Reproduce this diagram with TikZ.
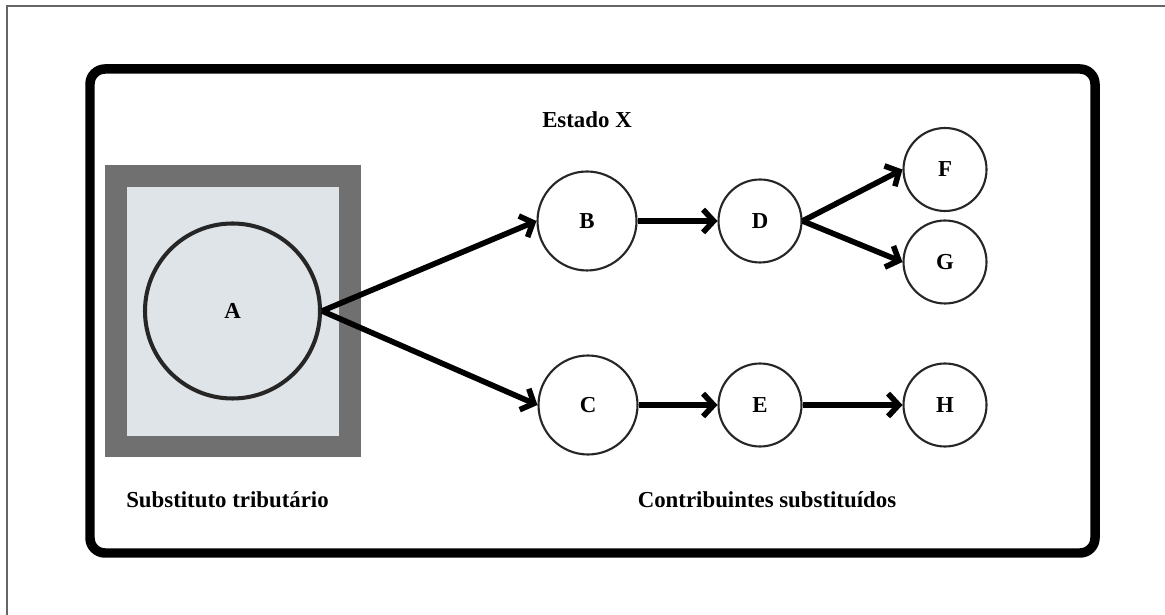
\documentclass[tikz,border=0pt]{standalone}
\usepackage{fontspec}
\setmainfont{Liberation Serif}
\usetikzlibrary{arrows.meta}

\definecolor{moldura}{HTML}{707070}
\definecolor{fundo}{HTML}{DFE4E8}
\definecolor{contorno}{HTML}{262626}

\tikzset{
	pessoa/.style={circle, draw=contorno, line width=1.2pt, fill=white, inner sep=0pt, font=\bfseries\fontsize{13}{15}\selectfont},
	grande/.style={pessoa, minimum size=1.98cm},
	pequena/.style={pessoa, minimum size=1.66cm},
	seta/.style={line width=3.2pt, -{Straight Barb[length=6pt,width=13pt,line width=3.2pt]}},
	rotulo/.style={font=\bfseries\fontsize{13}{15}\selectfont}
}

\begin{document}
\begin{tikzpicture}
	
	\useasboundingbox (0,0) rectangle (23.3,12.3);
	
	\draw [color=moldura!90!black, line width=0.8pt] (0.14,0) -- (0.14,12.18) -- (23.3,12.18);
	
	\draw [line width=5.4pt, rounded corners=0.3cm] (1.8,1.24) rectangle (21.9,10.92);
	
	\fill [moldura] (2.1,3.16) rectangle (7.22,9.0);
	
	\fill [fundo] (2.54,3.58) rectangle (6.78,8.56);
	
	\node [pessoa, fill=fundo, line width=2.3pt, minimum size=3.5cm] (A) at (4.65,6.08) {A};
	
	\node [grande] (B) at (11.74,7.88) {B};
	\node [grande] (C) at (11.76,4.2) {C};
	
	\node [pequena] (D) at (15.2,7.88) {D};
	\node [pequena] (E) at (15.2,4.2) {E};
	
	\node [pequena] (F) at (18.9,8.91) {F};
	\node [pequena] (G) at (18.9,7.06) {G};
	\node [pequena] (H) at (18.9,4.2) {H};
	
	\draw [seta] (A.east) -- (B.west);
	\draw [seta] (A.east) -- (C.west);
	
	\draw [seta] (B) -- (D);
	\draw [seta] (C) -- (E);
	
	\draw [seta] (D.east) -- (F.west);
	\draw [seta] (D.east) -- (G.west);
	
	\draw [seta] (E) -- (H);
	
	\node [rotulo] (estado) at (11.74,9.9) {Estado X};
	
	\node [rotulo] (substituto) at (4.55,2.3) {Substituto tributário};
	
	\node [rotulo] (substituidos) at (15.34,2.3) {Contribuintes substituídos};
	
\end{tikzpicture}
\end{document}
